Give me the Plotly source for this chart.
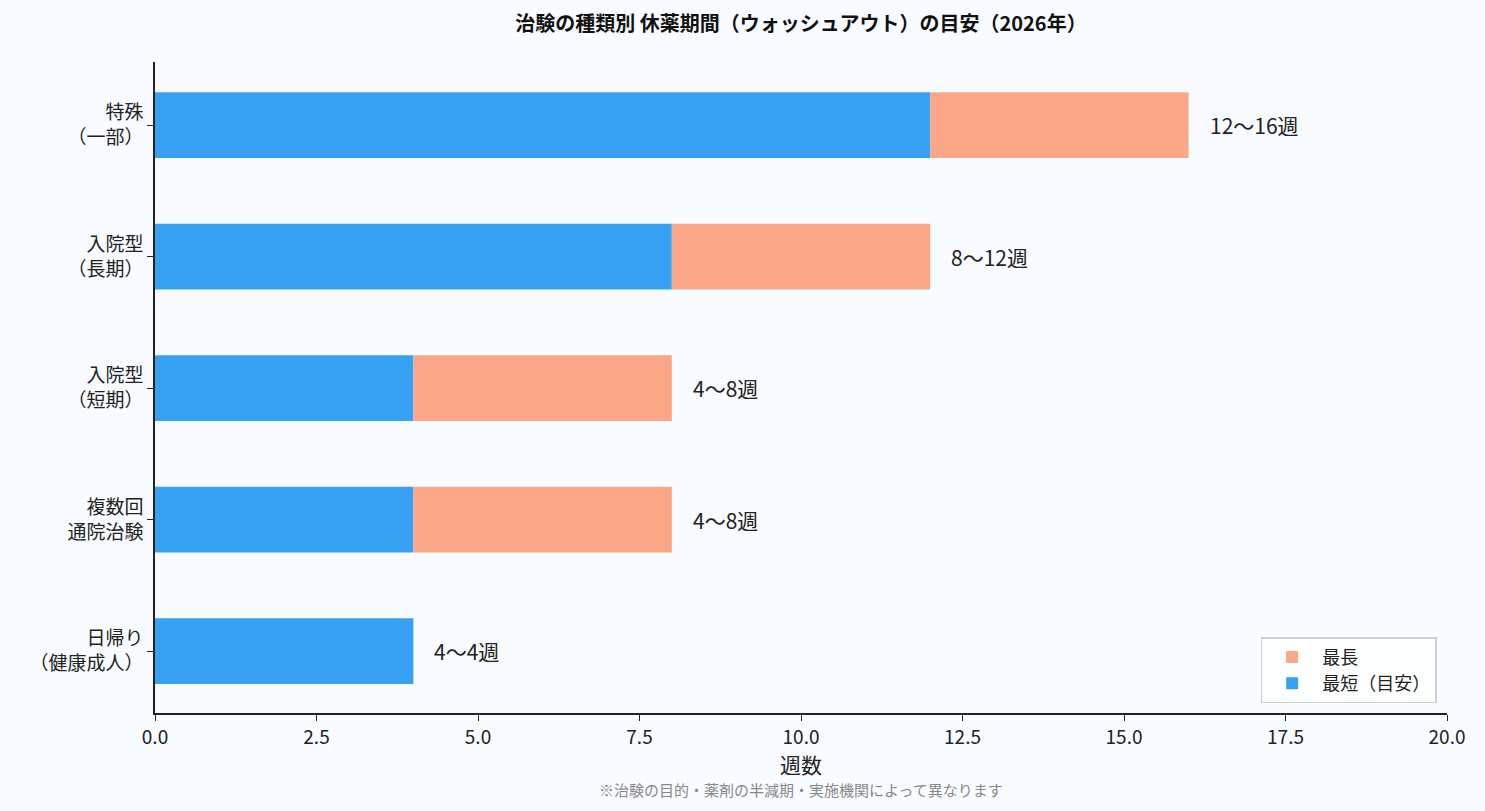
import plotly.graph_objects as go

categories = ["日帰り<br>（健康成人）", "複数回<br>通院治験", "入院型<br>（短期）", "入院型<br>（長期）", "特殊<br>（一部）"]
min_weeks = [4, 4, 4, 8, 12]
max_weeks = [4, 8, 8, 12, 16]
labels = [f"{a}〜{b}週" for a, b in zip(min_weeks, max_weeks)]
extra = [b - a for a, b in zip(min_weeks, max_weeks)]

FONT = "Noto Sans CJK JP"
BLUE = "#37A1F3"
SALMON = "#FBA686"
BG = "#F8FBFF"

fig = go.Figure()
fig.add_trace(go.Bar(y=categories, x=min_weeks, orientation="h", name="最短（目安）",
                     marker=dict(color=BLUE, line=dict(width=0)), width=0.5))
fig.add_trace(go.Bar(y=categories, x=extra, base=min_weeks, orientation="h", name="最長",
                     marker=dict(color=SALMON, line=dict(width=0)), width=0.5))

for c, m, t in zip(categories, max_weeks, labels):
    fig.add_annotation(x=m, y=c, text=t, showarrow=False, xanchor="left", xshift=19,
                       font=dict(size=21, color="#222", family=FONT))

fig.add_annotation(x=0.5, y=-0.118, xref="paper", yref="paper", showarrow=False,
                   text="※治験の目的・薬剤の半減期・実施機関によって異なります",
                   font=dict(size=15, color="#888", family=FONT), yanchor="middle")

fig.update_layout(
    width=1485, height=811,
    paper_bgcolor=BG, plot_bgcolor=BG,
    barmode="overlay",
    margin=dict(l=155, r=38, t=62, b=98),
    font=dict(family=FONT, color="#222", size=18),
    title=dict(text="<b>治験の種類別 休薬期間（ウォッシュアウト）の目安（2026年）</b>",
               x=0.5, xref="paper", xanchor="center", y=0.97, yanchor="middle",
               font=dict(size=20, family=FONT, color="#111")),
    legend=dict(x=0.992, y=0.015, xanchor="right", yanchor="bottom",
                bgcolor="rgba(255,255,255,0.85)", bordercolor="#D0D0D0", borderwidth=1.5,
                font=dict(size=18, family=FONT), traceorder="reversed", itemwidth=50),
    xaxis=dict(range=[0, 20], dtick=2.5, tickformat=".1f", showgrid=False, zeroline=False,
               showline=True, linecolor="#222", linewidth=1.5, ticks="outside", ticklen=6,
               tickcolor="#222", tickfont=dict(size=19),
               title=dict(text="週数", font=dict(size=21), standoff=2)),
    yaxis=dict(range=[-0.47, 4.48], showgrid=False, zeroline=False, showline=True,
               linecolor="#222", linewidth=1.5, ticks="outside", ticklen=6, tickcolor="#222",
               tickfont=dict(size=19)),
)

fig.write_html("out.html")
